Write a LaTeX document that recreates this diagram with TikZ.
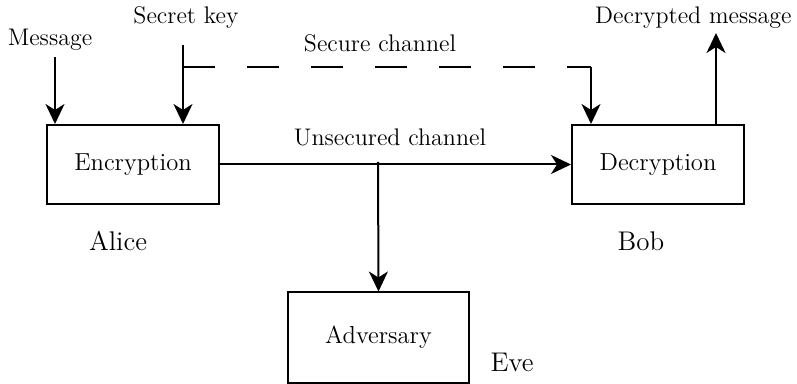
\documentclass[tikz,border=0pt]{standalone}
\usepackage{tikz}
\usetikzlibrary{arrows.meta}
\usetikzlibrary{positioning}
\tikzset{
  blockbox/.style={draw,line width=1pt,minimum width=86pt,minimum height=39.5pt,font=\fontsize{12.3}{14}\selectfont},
  flow/.style={line width=1pt,-{Stealth[length=10pt,width=9.5pt,inset=3pt]}},
  lbl/.style={font=\fontsize{12}{14}\selectfont,inner sep=0pt},
  who/.style={font=\fontsize{13.5}{15}\selectfont,inner sep=0pt}
}
\begin{document}
\begin{tikzpicture}[x=0.5pt,y=-0.5pt]
\useasboundingbox (0,0) rectangle (797,384);
        \node[blockbox] (enc) at (133,164.5) {Encryption};
        \node[blockbox] (dec) at (658,164.5) {Decryption};
        \node[blockbox,minimum width=90.5pt,minimum height=45pt] (adv) at (378.5,337.5) {Adversary};
\node[who] (alice) at (118,241) {Alice};
\node[who] (bob) at (641,241) {Bob};
\node[who] (eve) at (512,362) {Eve};
\node[lbl] (msg) at (50,40) {Message};
\node[lbl] (key) at (186,18) {Secret key};
\node[lbl] (sec) at (380,43) {Secure channel};
\node[lbl] (uns) at (390,137) {Unsecured channel};
\node[lbl,anchor=east] (out) at (792,18) {Decrypted message};
\coordinate (m0) at (55,57);
\coordinate (k0) at (183,45);
\coordinate (kc) at (183,67);
\coordinate (sc) at (591,67);
\coordinate (tap) at (378,162);
\coordinate (d0) at (716,33);
        \draw[flow] (m0) -- (m0 |- enc.north);
        \draw[flow] (k0) -- (k0 |- enc.north);
        \draw[line width=1pt,dash pattern=on 16pt off 16pt] (kc) -- (sc);
        \draw[flow] (sc) -- (sc |- dec.north);
        \draw[flow] (enc.east) -- (dec.west);
        \draw[flow] (tap) -- (adv.north);
        \draw[flow] (d0 |- dec.north) -- (d0);
\end{tikzpicture}
\end{document}
